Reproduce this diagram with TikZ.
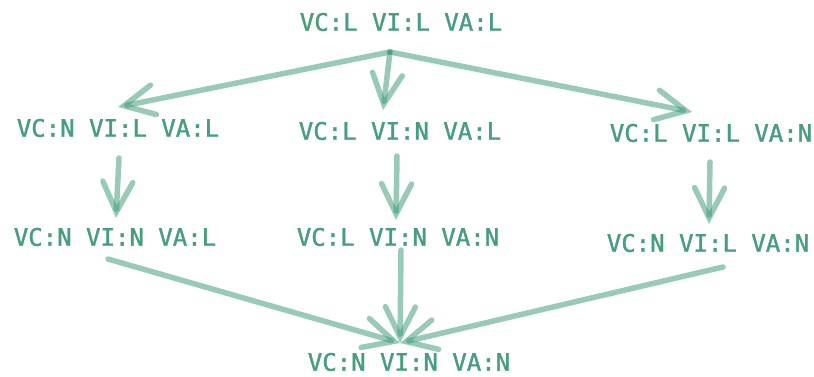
\documentclass[tikz,border=0pt]{standalone}
\usepackage{fontspec}
\setmonofont[FakeBold=1.5]{DejaVu Sans Mono}
\usepackage{xcolor}
\usetikzlibrary{arrows.meta}
\definecolor{statetext}{RGB}{70,158,122}
\definecolor{stateline}{RGB}{52,150,112}

\begin{document}
\begin{tikzpicture}[x=1pt, y=-1pt,
  state/.style={text=statetext, font=\ttfamily\fontsize{24}{28}\selectfont, inner sep=0pt},
  trans/.style={draw=stateline, draw opacity=0.5, line width=5.5pt, line cap=round, line join=round,
    -{Straight Barb[length=30pt, width=30pt, line cap=round]}}]
\useasboundingbox (0,0) rectangle (814,377);
% states
\node[state] (LLL) at (401,22) {VC:L VI:L VA:L};
\node[state] (NLL) at (118,128) {VC:N VI:L VA:L};
\node[state] (LNL) at (400,131) {VC:L VI:N VA:L};
\node[state] (LLN) at (711,133) {VC:L VI:L VA:N};
\node[state] (NNL) at (115,237) {VC:N VI:N VA:L};
\node[state] (LNN) at (398,237) {VC:L VI:N VA:N};
\node[state] (NLN) at (708,243) {VC:N VI:L VA:N};
\node[state] (NNN) at (409,362) {VC:N VI:N VA:N};
% transitions
\draw[trans] ([shift={(-11,30)}]LLL.center) -- ([shift={(0,-21)}]NLL.center);
\draw[trans] ([shift={(-11,30)}]LLL.center) -- ([shift={(-17,-21)}]LNL.center);
\draw[trans] ([shift={(-11,30)}]LLL.center) -- ([shift={(-19,-21)}]LLN.center);
\draw[trans] ([shift={(1,30)}]NLL.center) -- ([shift={(1,-19)}]NNL.center);
\draw[trans] ([shift={(-3,25)}]LNL.center) -- ([shift={(-2,-17)}]LNN.center);
\draw[trans] ([shift={(-1,29)}]LLN.center) -- ([shift={(1,-19)}]NLN.center);
\draw[trans] ([shift={(-7,22)}]NNL.center) -- ([shift={(-9,-19)}]NNN.center);
\draw[trans] ([shift={(3,13)}]LNN.center) -- ([shift={(-9,-19)}]NNN.center);
\draw[trans] ([shift={(15,24)}]NLN.center) -- ([shift={(-9,-19)}]NNN.center);
\end{tikzpicture}
\end{document}
